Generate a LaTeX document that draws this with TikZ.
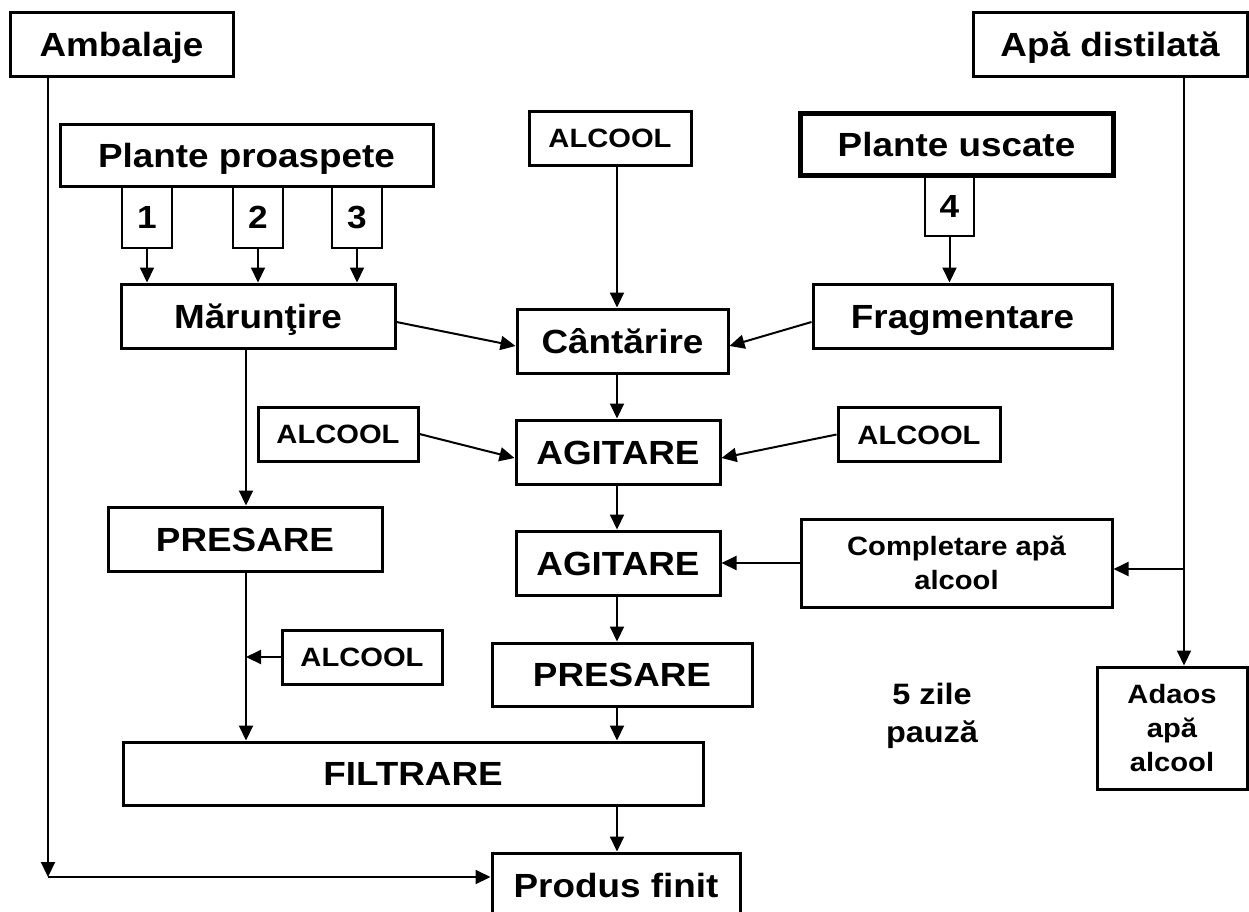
\documentclass[tikz,border=0pt]{standalone}
\usepackage{fontspec}
\setmainfont[FakeStretch=1.1]{Liberation Sans}
\usetikzlibrary{arrows.meta,calc}
\tikzset{
 lbl/.style={font=\bfseries\fontsize{33.5}{38}\selectfont, text height=24pt, text depth=0pt},
 bx/.style={draw, line width=3pt, inner sep=0pt, lbl},
 small/.style={draw, line width=3pt, inner sep=0pt, font=\bfseries\fontsize{26.5}{34}\selectfont, align=center},
 alc/.style={draw, line width=3pt, inner sep=0pt, font=\bfseries\fontsize{26.5}{34}\selectfont, text height=19pt, text depth=0pt, minimum height=54pt},
 num/.style={draw, line width=2pt, inner sep=0pt, font=\bfseries\fontsize{32}{36}\selectfont, text height=23pt, text depth=0pt, minimum width=50pt, minimum height=62pt},
 arr/.style={line width=2pt, -{Triangle[length=15pt,width=14pt]}},
 ln/.style={line width=2pt},
}
\begin{document}
\begin{tikzpicture}[x=1pt,y=-1pt]
\useasboundingbox (0,0) rectangle (1249,911);
\node[bx, minimum width=223pt, minimum height=64pt] (amb) at (121.5,44) {Ambalaje};
\node[bx, minimum width=373pt, minimum height=62pt] (pp) at (246.5,155) {Plante proaspete};
\node[num] (n1) at (147,217) {1};
\node[num] (n2) at (258,217) {2};
\node[num] (n3) at (357,217) {3};
\node[bx, minimum width=274pt, minimum height=64pt] (mar) at (258,316) {Mărunţire};
\node[alc, minimum width=162pt] (a1) at (610,138) {ALCOOL};
\node[bx, line width=5pt, minimum width=313pt, minimum height=62pt] (pu) at (956.5,144) {Plante uscate};
\node[num, minimum width=49pt, minimum height=61pt] (n4) at (949.5,205.5) {4};
\node[bx, minimum width=274pt, minimum height=64pt] (apa) at (1110,44) {Apă distilată};
\node[bx, minimum width=299pt, minimum height=64pt] (frag) at (962.5,316) {Fragmentare};
\node[bx, minimum width=211pt, minimum height=64pt] (cant) at (622.5,341) {Cântărire};
\node[alc, minimum width=160pt] (a2) at (338,434) {ALCOOL};
\node[alc, minimum width=162pt] (a3) at (919,434.5) {ALCOOL};
\node[bx, minimum width=204pt, minimum height=64pt] (ag1) at (618,452) {AGITARE};
\node[bx, minimum width=204pt, minimum height=64pt] (ag2) at (618,563) {AGITARE};
\node[bx, minimum width=274pt, minimum height=64pt] (pr1) at (245,539) {PRESARE};
\node[small, minimum width=311pt, minimum height=88pt] (comp) at (956.5,563) {Completare apă\\alcool};
\node[alc, minimum width=160pt] (a4) at (362,657) {ALCOOL};
\node[bx, minimum width=260pt, minimum height=63pt] (pr2) at (622,674.5) {PRESARE};
\node[small, minimum width=150pt, minimum height=122pt] (ad) at (1172,728) {Adaos\\apă\\alcool};
\node[bx, minimum width=580pt, minimum height=63pt] (fil) at (413,773.5) {FILTRARE};
\node[bx, minimum width=248pt, minimum height=64pt] (prod) at (616,885) {Produs finit};
\node[font=\bfseries\fontsize{29.5}{38}\selectfont, align=center, inner sep=0pt] (pauza) at (932,716) {5 zile\\pauză};
\coordinate (cx) at (617,0);
\coordinate (lx) at (246,0);
\coordinate (rx) at (1184,0);
\coordinate (ax) at (48,0);
\coordinate (corner) at (48,877);
\coordinate (rj) at (1184,569);
\draw[arr] (amb.south -| ax) -- (corner);
\draw[arr] (corner) -- (corner -| prod.west);
\draw[arr] (n1.south) -- (n1.south |- mar.north);
\draw[arr] (n2.south) -- (n2.south |- mar.north);
\draw[arr] (n3.south) -- (n3.south |- mar.north);
\draw[arr] (n4.south) -- (n4.south |- frag.north);
\draw[arr] (a1.south -| cx) -- (cant.north -| cx);
\draw[arr] ([yshift=-6pt]mar.east) -- ([yshift=-5pt]cant.west);
\draw[arr] ([yshift=-6pt]frag.west) -- ([yshift=-5pt]cant.east);
\draw[arr] (cant.south -| cx) -- (ag1.north -| cx);
\draw[arr] (a2.east) -- ([yshift=-6pt]ag1.west);
\draw[arr] (a3.west) -- ([yshift=-6pt]ag1.east);
\draw[arr] (ag1.south -| cx) -- (ag2.north -| cx);
\draw[arr] (comp.west) -- (ag2.east);
\draw[arr] (ag2.south -| cx) -- (pr2.north -| cx);
\draw[arr] (pr2.south -| cx) -- (fil.north -| cx);
\draw[arr] (fil.south -| cx) -- (prod.north -| cx);
\draw[arr] (mar.south -| lx) -- (pr1.north -| lx);
\draw[arr] (pr1.south -| lx) -- (fil.north -| lx);
\draw[arr] (a4.west) -- (a4.west -| lx);
\draw[arr] (apa.south -| rx) -- (ad.north -| rx);
\draw[arr] (rj) -- (rj -| comp.east);
\end{tikzpicture}
\end{document}
